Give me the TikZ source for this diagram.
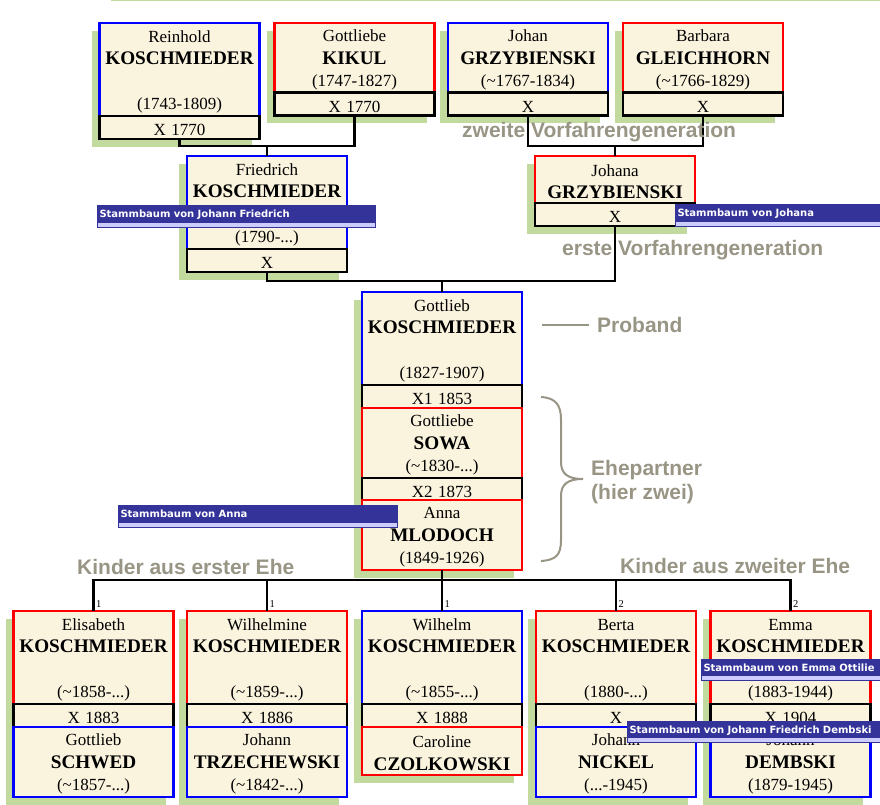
\documentclass[tikz,border=0pt]{standalone}
\usepackage{fontspec}
\setmainfont{Liberation Serif}
\newfontfamily\noteFont{Liberation Sans}
\newfontfamily\tipFont{DejaVu Sans}
\usepackage{tikz}
\usetikzlibrary{positioning,shadows}
\definecolor{famBlue}{RGB}{0,0,255}
\definecolor{famRed}{RGB}{255,0,0}
\definecolor{famCream}{RGB}{250,243,221}
\definecolor{famGreen}{RGB}{195,218,158}
\definecolor{noteGray}{RGB}{152,149,133}
\definecolor{tipBlue}{RGB}{51,51,153}
\definecolor{tipLight}{RGB}{204,204,255}
\newcommand{\famName}[1]{{\fontsize{19.2}{22.5}\selectfont\bfseries #1}}
\newcommand{\abt}{\textasciitilde}
\tikzset{
    person/.style={rectangle, fill=famCream, line width=2.6pt, inner sep=0pt, outer sep=0pt,
                   minimum width=160pt, text width=160pt, align=center,
                   font=\fontsize{17}{22.5}\selectfont,
                   execute at begin node={\rule{0pt}{16.5pt}},
                   drop shadow={shadow xshift=-8pt, shadow yshift=-8pt, fill=famGreen, opacity=1}},
    man/.style={person, draw=famBlue},
    woman/.style={person, draw=famRed},
    tall/.style={minimum height=93pt},
    short/.style={minimum height=69.5pt},
    wedding/.style={person, draw=black, minimum height=23pt},
    famLine/.style={draw, line width=2.6pt, black},
    noteText/.style={text=noteGray, inner sep=0pt, font=\noteFont\bfseries\fontsize{21}{24}\selectfont},
    noteLine/.style={draw, line width=2pt, noteGray},
    marriageNo/.style={inner sep=0pt, font=\fontsize{10.5}{12}\selectfont},
    tip/.style={rectangle, fill=tipBlue, draw=tipBlue, line width=1pt, text=white,
                anchor=north west, inner xsep=2pt, inner ysep=0pt, minimum height=22pt,
                text height=8pt, text depth=6pt, align=left,
                font=\tipFont\bfseries\fontsize{10}{12}\selectfont,
                path picture={\fill[tipLight] (path picture bounding box.south west)
                  rectangle ([yshift=5pt]path picture bounding box.south east);}}
}
\begin{document}
\begin{tikzpicture}[x=1pt, y=-1pt, node distance=0pt]
  \useasboundingbox (0,0) rectangle (880,805);
  \draw[famGreen, line width=1.5pt] (111,0.75) -- (880,0.75);

  \node [man, tall, anchor=north] (reinhold) at (179.5,23) {Reinhold\\\famName{KOSCHMIEDER}\\[22.5pt](1743-1809)};
  \node [wedding, below=0pt of reinhold] (reinholdX) {X 1770};
  \node [woman, short, anchor=north] (kikul) at (354.5,23) {Gottliebe\\\famName{KIKUL}\\(1747-1827)};
  \node [wedding, below=0pt of kikul] (kikulX) {X 1770};
  \node [man, short, anchor=north] (johan) at (528,23) {Johan\\\famName{GRZYBIENSKI}\\(\abt1767-1834)};
  \node [wedding, below=0pt of johan] (johanX) {X};
  \node [woman, short, anchor=north] (barbara) at (703,23) {Barbara\\\famName{GLEICHHORN}\\(\abt1766-1829)};
  \node [wedding, below=0pt of barbara] (barbaraX) {X};

  \node [man, tall, anchor=north] (friedrich) at (267,156) {Friedrich\\\famName{KOSCHMIEDER}\\[22.5pt](1790-...)};
  \node [wedding, below=0pt of friedrich] (friedrichX) {X};
  \node [woman, minimum height=47pt, anchor=north] (johana) at (615,156) {Johana\\\famName{GRZYBIENSKI}};
  \node [wedding, below=0pt of johana] (johanaX) {X};

  \node [man, tall, anchor=north] (gottlieb) at (442,292) {Gottlieb\\\famName{KOSCHMIEDER}\\[22.5pt](1827-1907)};
  \node [wedding, below=0pt of gottlieb] (gottliebX) {X1 1853};
  \node [woman, minimum height=70pt, below=0pt of gottliebX] (sowa) {Gottliebe\\\famName{SOWA}\\(\abt1830-...)};
  \node [wedding, minimum height=22pt, below=0pt of sowa] (sowaX) {X2 1873};
  \node [woman, minimum height=70pt, below=0pt of sowaX] (anna) {Anna\\\famName{MLODOCH}\\(1849-1926)};

  \node [woman, tall, anchor=north] (elisabeth) at (93.5,611) {Elisabeth\\\famName{KOSCHMIEDER}\\[22.5pt](\abt1858-...)};
  \node [wedding, below=0pt of elisabeth] (elisabethX) {X 1883};
  \node [man, minimum height=70pt, below=0pt of elisabethX] (schwed) {Gottlieb\\\famName{SCHWED}\\(\abt1857-...)};
  \node [woman, tall, anchor=north] (wilhelmine) at (267,611) {Wilhelmine\\\famName{KOSCHMIEDER}\\[22.5pt](\abt1859-...)};
  \node [wedding, below=0pt of wilhelmine] (wilhelmineX) {X 1886};
  \node [man, minimum height=70pt, below=0pt of wilhelmineX] (trzechewski) {Johann\\\famName{TRZECHEWSKI}\\(\abt1842-...)};
  \node [man, tall, anchor=north] (wilhelm) at (442,611) {Wilhelm\\\famName{KOSCHMIEDER}\\[22.5pt](\abt1855-...)};
  \node [wedding, below=0pt of wilhelm] (wilhelmX) {X 1888};
  \node [woman, minimum height=48pt, below=0pt of wilhelmX] (czolkowski) {Caroline\\\famName{CZOLKOWSKI}};
  \node [woman, tall, anchor=north] (berta) at (616,611) {Berta\\\famName{KOSCHMIEDER}\\[22.5pt](1880-...)};
  \node [wedding, below=0pt of berta] (bertaX) {X};
  \node [man, minimum height=70pt, below=0pt of bertaX] (nickel) {Johann\\\famName{NICKEL}\\(...-1945)};
  \node [woman, tall, anchor=north] (emma) at (790.5,611) {Emma\\\famName{KOSCHMIEDER}\\[22.5pt](1883-1944)};
  \node [wedding, below=0pt of emma] (emmaX) {X 1904};
  \node [man, minimum height=70pt, below=0pt of emmaX] (dembski) {Johann\\\famName{DEMBSKI}\\(1879-1945)};

  \coordinate (friedrichUp) at (267,146);
  \coordinate (johanaUp) at (615,146);
  \coordinate (gottliebUp) at (442,281);
  \coordinate (kidsBar) at (442,580);
  \draw[famLine] (reinholdX.south) |- (friedrichUp) -| (kikulX.south);
  \draw[famLine] (friedrichUp) -- (friedrich.north);
  \draw[famLine] (johanX.south) |- (johanaUp) -| (barbaraX.south);
  \draw[famLine] (johanaUp) -- (johana.north);
  \draw[famLine] (friedrichX.south) |- (gottliebUp) -| (johanaX.south);
  \draw[famLine] (gottliebUp) -- (gottlieb.north);
  \draw[famLine] (anna.south) -- (kidsBar);
  \draw[famLine] (elisabeth.north) |- (kidsBar) -| (emma.north);
  \foreach \kid in {wilhelmine, wilhelm, berta}
    \draw[famLine] (\kid.north) -- (\kid.north |- kidsBar);
  \foreach \kid/\ehe in {elisabeth/1, wilhelmine/1, wilhelm/1, berta/2, emma/2}
    \node[marriageNo, anchor=south west] (no\kid) at ([xshift=2.5pt, yshift=3.5pt]\kid.north) {\ehe};

  \node[noteText, anchor=base west] (gen2) at (462,138) {zweite Vorfahrengeneration};
  \node[noteText, anchor=base west] (gen1) at (562,255) {erste Vorfahrengeneration};
  \node[noteText, anchor=base west] (proband) at (597,332) {Proband};
  \coordinate (probandTick) at (542,325);
  \draw[noteLine] (probandTick) -- (589,325);
  \draw[noteLine] (541,397) .. controls (556,398) and (561,405) .. (561,420) -- (561,462)
    .. controls (561,474) and (568,479) .. (583,479) .. controls (568,479) and (561,484) .. (561,496)
    -- (561,540) .. controls (561,555) and (556,560) .. (541,561);
  \node[noteText, anchor=north west, align=left] (spouses) at (591,460) {Ehepartner\\(hier zwei)};
  \node[noteText, anchor=base west] (kids1) at (77,574) {Kinder aus erster Ehe};
  \node[noteText, anchor=base west] (kids2) at (620,573) {Kinder aus zweiter Ehe};

  \node[tip, text width=274pt] (tipFriedrich) at (97,205) {Stammbaum von Johann Friedrich};
  \node[tip, text width=211pt] (tipJohana) at (675,204) {Stammbaum von Johana};
  \node[tip, text width=275pt] (tipAnna) at (118,505) {Stammbaum von Anna};
  \node[tip, text width=181pt, minimum height=21pt] (tipEmma) at (701,659) {Stammbaum von Emma Ottilie};
  \node[tip, text width=256pt, minimum height=21pt] (tipDembski) at (627,721) {Stammbaum von Johann Friedrich Dembski};
\end{tikzpicture}
\end{document}
